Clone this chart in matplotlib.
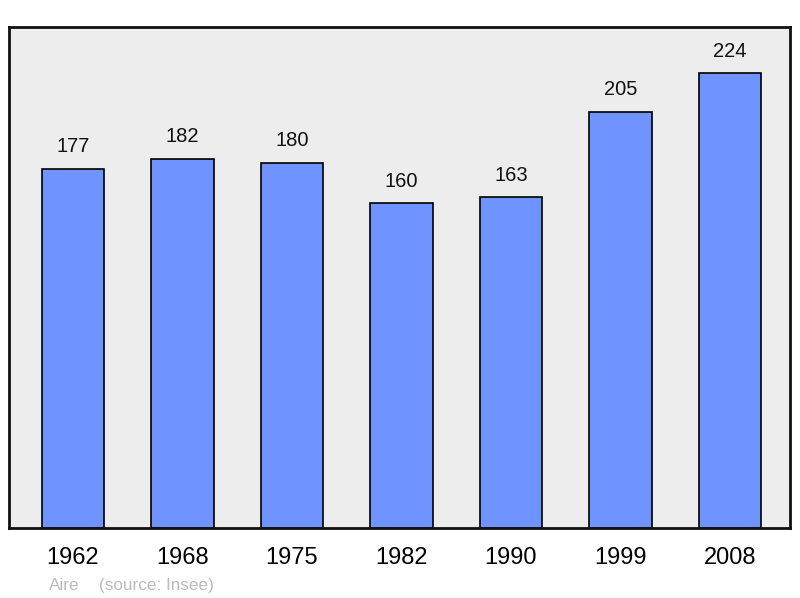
import matplotlib
matplotlib.use("Agg")
import matplotlib.pyplot as plt

years = ["1962", "1968", "1975", "1982", "1990", "1999", "2008"]
population = [177, 182, 180, 160, 163, 205, 224]
commune = "Aire"
source = "(source: Insee)"

plt.rcParams['font.family'] = ['Liberation Sans', 'DejaVu Sans']

fig = plt.figure(figsize=(8, 5.98), dpi=100)
ax = fig.add_axes([9/800, 70/598, 781/800, 501/598])
ax.set_facecolor('#ededed')

x = list(range(len(years)))
bars = ax.bar(x, population, width=0.57, color='#7094ff', edgecolor='black', linewidth=1.2, zorder=2)
for xi, v in zip(x, population):
    ax.annotate(str(v), (xi, v), xytext=(0, 9), textcoords='offset points',
                ha='center', va='bottom', fontsize=14.5, color='#111111')

ax.set_xlim(-0.585, 6.55)
ax.set_ylim(0, 246.8)
ax.set_yticks([])
ax.set_xticks(x)
ax.set_xticklabels(years, fontsize=17)
ax.tick_params(axis='x', length=0, pad=14)
for s in ax.spines.values():
    s.set_linewidth(2)
    s.set_color('#111111')

fig.text(49/800, 1 - 590/598, commune, fontsize=12.3, color='#bbbbbb', va='baseline', ha='left')
fig.text(99/800, 1 - 590/598, source, fontsize=12.3, color='#bbbbbb', va='baseline', ha='left')

fig.savefig("out.png", dpi=100)
